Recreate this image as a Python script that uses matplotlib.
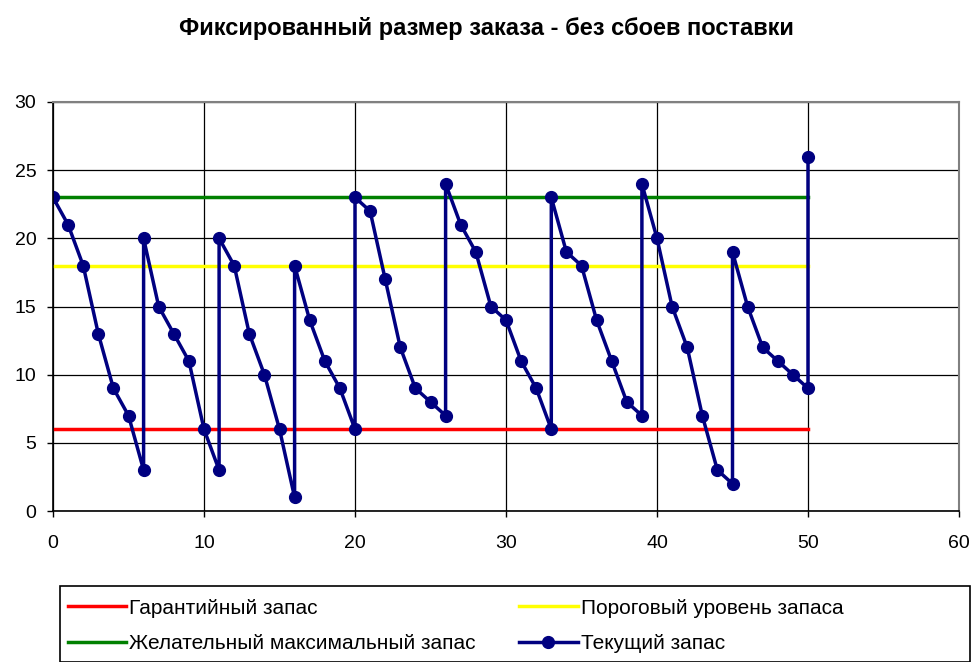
import matplotlib.pyplot as plt
from matplotlib.patches import Rectangle

# inventory level over time (jumps are drawn as two points at the same x)
days = [0, 1, 2, 3, 4, 5, 6, 6, 7, 8, 9, 10, 11, 11, 12, 13, 14, 15, 16, 16,
        17, 18, 19, 20, 20, 21, 22, 23, 24, 25, 26, 26, 27, 28, 29, 30, 31, 32,
        33, 33, 34, 35, 36, 37, 38, 39, 39, 40, 41, 42, 43, 44, 45, 45, 46, 47,
        48, 49, 50, 50]
stock = [23, 21, 18, 13, 9, 7, 3, 20, 15, 13, 11, 6, 3, 20, 18, 13, 10, 6, 1, 18,
         14, 11, 9, 6, 23, 22, 17, 12, 9, 8, 7, 24, 21, 19, 15, 14, 11, 9,
         6, 23, 19, 18, 14, 11, 8, 7, 24, 20, 15, 12, 7, 3, 2, 19, 15, 12,
         11, 10, 9, 26]

span = [0, 50]
safety_stock = 6
reorder_level = 18
max_stock = 23

title = 'Фиксированный размер заказа - без сбоев поставки'
labels = ['Гарантийный запас', 'Пороговый уровень запаса',
          'Желательный максимальный запас', 'Текущий запас']

plt.rcParams['font.family'] = ['Liberation Sans', 'DejaVu Sans']

fig = plt.figure(figsize=(9.73, 6.62), dpi=100)
ax = fig.add_axes([53 / 973, 1 - 511 / 662, 906 / 973, 409 / 662])

l_red, = ax.plot(span, [safety_stock] * 2, color='#FF0000', lw=2.5, label=labels[0])
l_yel, = ax.plot(span, [reorder_level] * 2, color='#FFFF00', lw=2.5, label=labels[1])
l_grn, = ax.plot(span, [max_stock] * 2, color='#008000', lw=2.5, label=labels[2])
l_cur, = ax.plot(days, stock, color='#000080', lw=2.5, marker='o', ms=8.5, label=labels[3])

ax.set_xlim(0, 60)
ax.set_ylim(0, 30)
ax.set_xticks(range(0, 61, 10))
ax.set_yticks(range(0, 31, 5))
ax.grid(True, color='black', lw=0.9)
ax.set_axisbelow(True)
ax.tick_params(direction='out', length=4, width=1, labelsize=14)
ax.tick_params(axis='x', pad=13)
ax.tick_params(axis='y', pad=8)
for s in ['left', 'bottom']:
    ax.spines[s].set_color('black')
    ax.spines[s].set_linewidth(1.2)
for s in ['top', 'right']:
    ax.spines[s].set_color('#808080')
    ax.spines[s].set_linewidth(1.5)

fig.text(0.5, 1 - 28 / 662, title, ha='center', va='center',
         fontsize=17, fontweight='bold')

fig.patches.append(Rectangle((60 / 973, 0), 910 / 973, 1 - 586 / 662,
                             transform=fig.transFigure, fill=False,
                             edgecolor='black', lw=1.2))
fig.legend([l_red, l_grn, l_yel, l_cur],
           [labels[0], labels[2], labels[1], labels[3]],
           ncol=2, loc='upper left', bbox_to_anchor=(53 / 973, 1 - 584 / 662),
           frameon=False, fontsize=15, handlelength=2.8, handletextpad=0.15,
           columnspacing=2.1, labelspacing=0.8, borderpad=0.2)

fig.savefig('out.png', dpi=100)
